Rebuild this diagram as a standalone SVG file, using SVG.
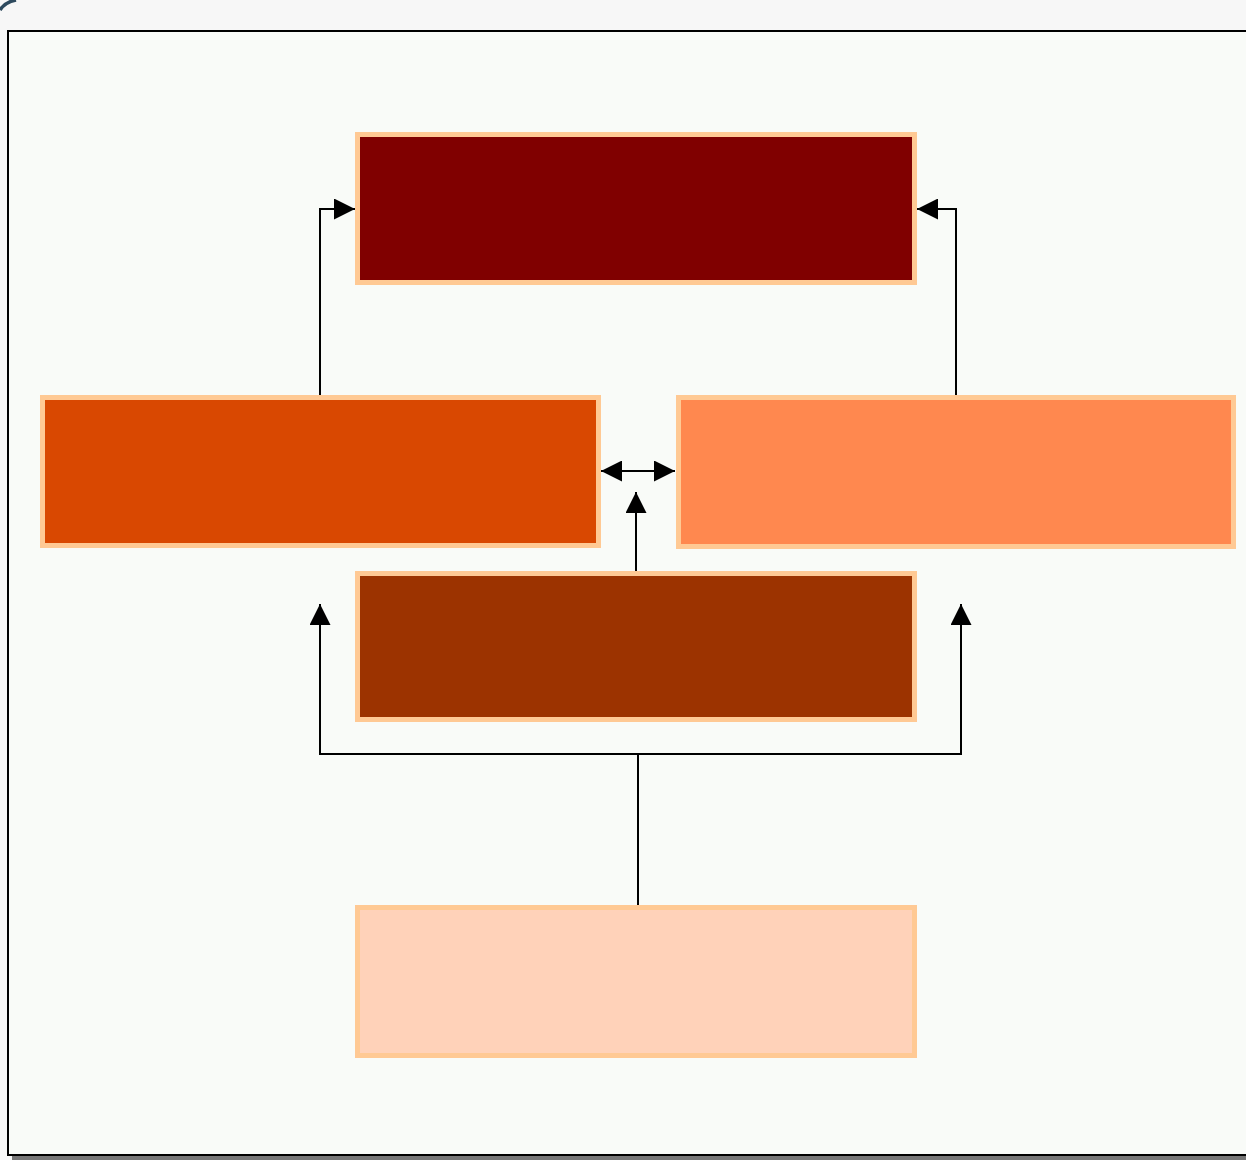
<svg xmlns="http://www.w3.org/2000/svg" width="1246" height="1160" viewBox="0 0 1246 1160">
<style>
.node{stroke:#ffc994;stroke-width:5}
.edge{fill:none;stroke:#000;stroke-width:2}
</style>
<defs>
<marker id="ah" viewBox="0 0 21 21" refX="21" refY="10.5" markerWidth="21" markerHeight="21" markerUnits="userSpaceOnUse" orient="auto-start-reverse">
<path d="M0,0 L21,10.5 L0,21 Z" fill="#000"/>
</marker>
</defs>
<rect x="0" y="0" width="1246" height="1160" fill="#f7f7f7"/>
<path d="M0,10 Q5,2 16,0" fill="none" stroke="#2e4a5e" stroke-width="3.5"/>
<rect x="12" y="1150" width="1240" height="10" fill="#777"/>
<rect x="8" y="31" width="1250" height="1124" fill="#f9fbf8" stroke="#000" stroke-width="2"/>
<g id="node-top"><rect class="node" x="357.5" y="134.5" width="557" height="148" fill="#800000"/></g>
<g id="node-left"><rect class="node" x="42.5" y="397.5" width="556" height="148" fill="#d94801"/></g>
<g id="node-right"><rect class="node" x="678.5" y="397.5" width="555" height="149" fill="#ff884f"/></g>
<g id="node-mid"><rect class="node" x="357.5" y="573.5" width="557" height="146" fill="#9c3300"/></g>
<g id="node-bottom"><rect class="node" x="357.5" y="907.5" width="557" height="148" fill="#ffd2b9"/></g>
<g id="connectors">
<path class="edge" d="M320,395 V209 H355" marker-end="url(#ah)"/>
<path class="edge" d="M956,395 V209 H917" marker-end="url(#ah)"/>
<path class="edge" d="M601,471 H675" marker-start="url(#ah)" marker-end="url(#ah)"/>
<path class="edge" d="M636,571 V492" marker-end="url(#ah)"/>
<path class="edge" d="M638,905 V754 H320 V604" marker-end="url(#ah)"/>
<path class="edge" d="M638,754 H961 V604" marker-end="url(#ah)"/>
</g>
</svg>
